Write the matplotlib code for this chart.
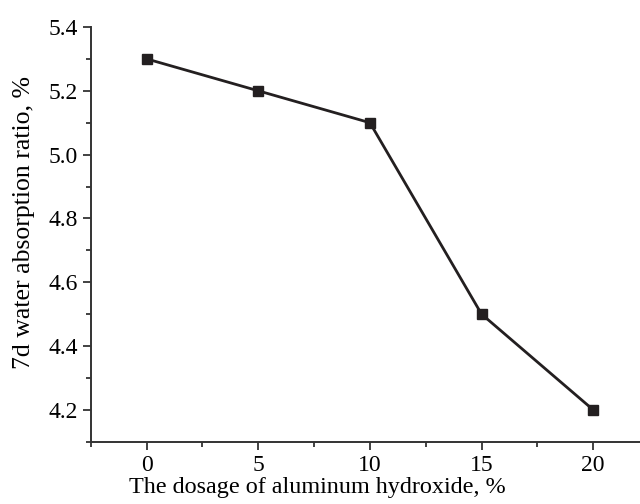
import matplotlib
matplotlib.use('Agg')
import matplotlib.pyplot as plt
from matplotlib.ticker import MultipleLocator, FormatStrFormatter

dosage = [0, 5, 10, 15, 20]
absorption = [5.3, 5.2, 5.1, 4.5, 4.2]

plt.rcParams['font.family'] = 'serif'
plt.rcParams['font.serif'] = ['Liberation Serif', 'Times New Roman', 'DejaVu Serif']

fig = plt.figure(figsize=(6.4, 5.04), dpi=100, facecolor='white')
# axes runs past the right edge of the picture, as in the original crop
ax = fig.add_axes([0.142, 0.1236, 0.872, 0.8228])

ax.plot(dosage, absorption, color='#231f20', lw=2.0, marker='s',
        markersize=6.8, markerfacecolor='#231f20', markeredgecolor='#231f20')

ax.set_xlim(-2.5, 22.5)
ax.set_ylim(4.1, 5.4)
ax.xaxis.set_major_locator(MultipleLocator(5))
ax.xaxis.set_minor_locator(MultipleLocator(2.5))
ax.yaxis.set_major_locator(MultipleLocator(0.2))
ax.yaxis.set_minor_locator(MultipleLocator(0.1))
ax.yaxis.set_major_formatter(FormatStrFormatter('%.1f'))

for s in ['top', 'right']:
    ax.spines[s].set_visible(False)
for s in ['left', 'bottom']:
    ax.spines[s].set_color('#333333')
    ax.spines[s].set_linewidth(1.4)

ax.tick_params(which='major', direction='out', length=5.5, width=1.3,
               color='#333333', labelsize=17, pad=4)
ax.tick_params(which='minor', direction='out', length=3.5, width=1.3, color='#333333')

ax.set_xlabel('The dosage of aluminum hydroxide, %', fontsize=17.4, labelpad=2)
ax.xaxis.set_label_coords(0.405, -0.085)
ax.set_ylabel('7d water absorption ratio, %', fontsize=18.5)
ax.yaxis.set_label_coords(-0.1, 0.528)

fig.savefig('out.png', dpi=100, facecolor='white')
